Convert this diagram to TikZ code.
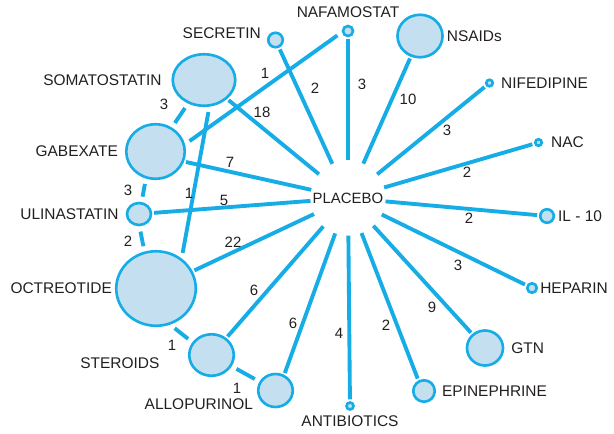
\documentclass[tikz,border=0pt]{standalone}
\usepackage{fontspec}
\setmainfont{Liberation Sans}
\usetikzlibrary{shapes.geometric}
\definecolor{lineBlue}{RGB}{22,172,230}
\definecolor{paleBlue}{RGB}{196,224,240}
\definecolor{inkGrey}{RGB}{35,31,32}

\tikzset{
  drug/.style 2 args={ellipse, draw=lineBlue, fill=paleBlue, line width=1.5pt,
    minimum width=#1, minimum height=#2, inner sep=0pt, outer sep=1.8pt},
  tag/.style={font=\fontsize{8.8}{10.5}\selectfont, text=inkGrey, inner sep=1pt},
  wt/.style={font=\fontsize{8.5}{10}\selectfont, text=inkGrey, inner sep=0pt},
  spoke/.style={draw=lineBlue, line width=2.2pt},
  link/.style={spoke, shorten <=2pt, shorten >=2pt},
}

\begin{document}
\begin{tikzpicture}[x=0.02cm, y=-0.02cm]
    \useasboundingbox (0,0) rectangle (614,433);
    % hub
    \node[tag, font=\fontsize{8.5}{10}\selectfont, circle, minimum size=1.44cm, outer sep=0pt] (pla) at (348,198) {PLACEBO};
    % treatments, left side
    \node[drug={1.25cm}{1.03cm}, label={[tag,label distance=3.4pt]left:SOMATOSTATIN}] (som) at (204,80) {};
    \node[drug={0.29cm}{0.29cm}, label={[tag,label distance=1.2pt,yshift=4pt]left:SECRETIN}] (sec) at (275.5,40) {};
    \node[drug={1.17cm}{1.09cm}, label={[tag,label distance=1.8pt]left:GABEXATE}] (gab) at (155.5,151.5) {};
    \node[drug={0.48cm}{0.44cm}, label={[tag,label distance=1.8pt]left:ULINASTATIN}] (uli) at (139,214) {};
    \node[drug={1.59cm}{1.49cm}, label={[tag,label distance=-0.5pt]left:OCTREOTIDE}] (oct) at (156,288.5) {};
    \node[drug={0.89cm}{0.83cm}, label={[tag,label distance=14pt,yshift=-4.5pt]left:STEROIDS}] (ste) at (211.5,355) {};
    \node[drug={0.69cm}{0.66cm}, label={[tag,label distance=0pt,yshift=-7.7pt]left:ALLOPURINOL}] (all) at (275.5,390.5) {};
    % treatments, top and right side
    \node[drug={0.2cm}{0.2cm}, label={[tag,label distance=1.5pt]above:NAFAMOSTAT}] (naf) at (348,31) {};
    \node[drug={0.9cm}{0.85cm}, label={[tag,label distance=-0.5pt]right:NSAIDs}] (nsa) at (420,36) {};
    \node[drug={0.13cm}{0.13cm}, label={[tag,label distance=1.8pt]right:NIFEDIPINE}] (nif) at (489.5,83) {};
    \node[drug={0.13cm}{0.13cm}, label={[tag,label distance=2.4pt]right:NAC}] (nac) at (538.5,142.5) {};
    \node[drug={0.27cm}{0.27cm}, label={[tag,label distance=-0.5pt]right:IL - 10}] (il) at (547,216) {};
    \node[drug={0.19cm}{0.19cm}, label={[tag,label distance=-1pt]right:HEPARIN}] (hep) at (532,288) {};
    \node[drug={0.72cm}{0.7cm}, label={[tag,label distance=1.8pt]right:GTN}] (gtn) at (485,348) {};
    \node[drug={0.43cm}{0.43cm}, label={[tag,label distance=1.2pt]right:EPINEPHRINE}] (epi) at (424,391) {};
    \node[drug={0.14cm}{0.14cm}, label={[tag,label distance=0.7pt]below:ANTIBIOTICS}] (ant) at (350,406) {};
    % comparisons against placebo
    \foreach \a/\w/\x/\y in {som/18/262/112, sec/2/315/88, naf/3/362/84, nsa/10/408/99,
        nif/3/447/130, nac/2/467/172, il/2/469/218, hep/3/458/265, gtn/9/432/307,
        epi.117/2/386/325, ant/4/339/333, all.62/6/293/323, ste/6/254/290,
        oct/22/233/242, uli/5/224/200, gab.-19/7/230/162} {
       \draw[spoke] (\a) -- (pla) node[wt] at (\x,\y) {\w};
     }
    % head to head comparisons
    \draw[link] (som) -- (gab) node[wt] at (164,104) {3};
    \draw[link] (gab.-109) -- (uli.78) node[wt] at (128,190) {3};
    \draw[link] (uli.-87) -- (oct.107) node[wt] at (128,241) {2};
    \draw[link] (som.-80) -- (oct.51) node[wt] at (189,193) {1};
    \draw[link] (naf.197) -- (gab.15) node[wt] at (265,73) {1};
    \draw[link] (oct.-67) -- (ste.146) node[wt] at (172,345) {1};
    \draw[link] (ste) -- (all) node[wt] at (237,388) {1};
\end{tikzpicture}
\end{document}
